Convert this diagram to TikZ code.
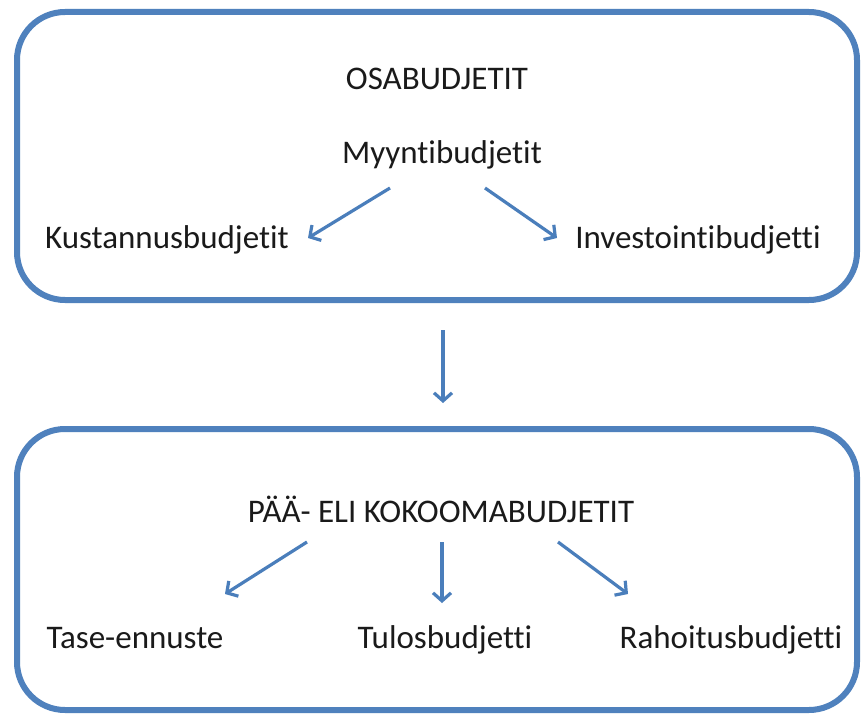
\documentclass[tikz,border=0pt]{standalone}
\usepackage{fontspec}
\setmainfont[Ligatures=NoCommon]{Carlito}
\usetikzlibrary{arrows.meta}
\definecolor{boxblue}{HTML}{4F81BD}
\definecolor{arrowblue}{HTML}{4A7EBB}
\definecolor{txt}{HTML}{1A1A1A}
\tikzset{
  panel/.style={draw=boxblue, line width=6pt, rounded corners=48pt},
  lbl/.style={inner sep=0pt, anchor=base, text=txt, font=\fontsize{33}{40}\selectfont},
  flow/.style={draw=arrowblue, line width=3.2pt,
    -{Straight Barb[length=8pt, width=18pt, line width=3.2pt]}}
}
\begin{document}
\begin{tikzpicture}[x=1pt, y=-1pt]
  \useasboundingbox (0,0) rectangle (863,717);
  \fill[white] (0,0) rectangle (863,717);

  % upper panel: sub-budgets
  \draw[panel] (17,12) rectangle (857,300);
  \node[lbl] (osa) at (437,90) {OSABUDJETIT};
  \node[lbl] (myy) at (442,163) {Myyntibudjetit};
  \node[lbl] (kus) at (167,248) {Kustannusbudjetit};
  \node[lbl] (inv) at (698,248) {Investointibudjetti};
  \coordinate (m1) at (390,188);
  \coordinate (m1e) at (308,238);
  \coordinate (m2) at (485,188);
  \coordinate (m2e) at (557,238);
  \draw[flow] (m1) -- (m1e);
  \draw[flow] (m2) -- (m2e);

  % link between panels
  \coordinate (d1) at (443,330);
  \coordinate (d2) at (443,403);
  \draw[flow] (d1) -- (d2);

  % lower panel: master budgets
  \draw[panel] (17,429) rectangle (857,710);
  \node[lbl] (paa) at (441,522) {PÄÄ- ELI KOKOOMABUDJETIT};
  \node[lbl] (tase) at (135,648) {Tase-ennuste};
  \node[lbl] (tulos) at (445,648) {Tulosbudjetti};
  \node[lbl] (raho) at (731,648) {Rahoitusbudjetti};
  \coordinate (p1) at (307,542);
  \coordinate (p1e) at (225,594);
  \coordinate (p2) at (442,542);
  \coordinate (p2e) at (442,603);
  \coordinate (p3) at (558,542);
  \coordinate (p3e) at (628,594);
  \draw[flow] (p1) -- (p1e);
  \draw[flow] (p2) -- (p2e);
  \draw[flow] (p3) -- (p3e);
\end{tikzpicture}
\end{document}
